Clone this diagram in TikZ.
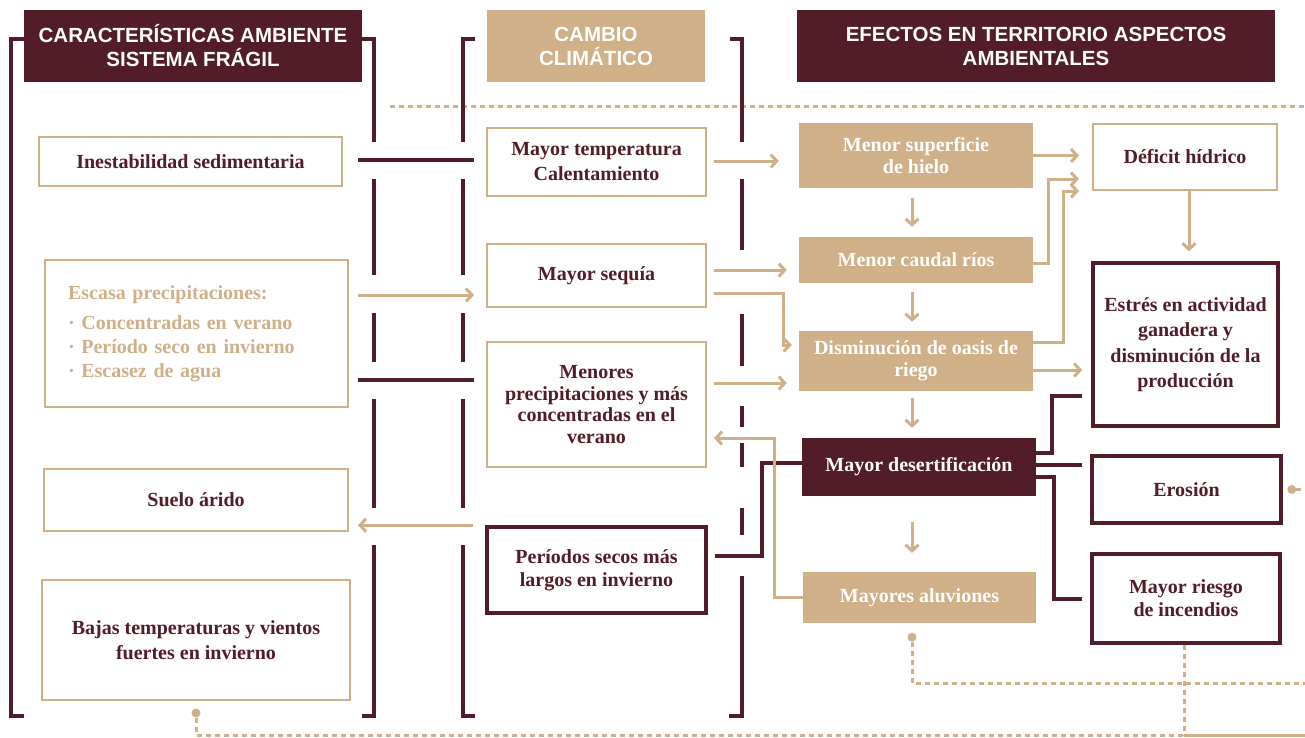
\documentclass[tikz,border=0pt]{standalone}
\usepackage{fontspec}
\setmainfont{Liberation Serif}
\newfontfamily\hdfont{Liberation Sans}
\usetikzlibrary{arrows.meta,calc}
\definecolor{maroonc}{HTML}{521C28}
\definecolor{tanc}{HTML}{D0B088}
\begin{document}
\begin{tikzpicture}[x=1pt,y=-1pt,
  txt/.style={font=\bfseries\fontsize{20}{25}\selectfont, align=center, inner sep=0pt},
  hdr/.style={font=\hdfont\bfseries\fontsize{20.5}{24}\selectfont, text=white, align=center, inner sep=0pt, minimum height=72pt},
  tbox/.style={txt, draw=tanc, line width=2pt, fill=white, text=maroonc},
  mbox/.style={txt, draw=maroonc, line width=3.5pt, fill=white, text=maroonc},
  tfill/.style={txt, fill=tanc, text=white},
  mfill/.style={txt, fill=maroonc, text=white},
  brk/.style={draw=maroonc, line width=4pt},
  mline/.style={draw=maroonc, line width=3.5pt},
  arr/.style={draw=tanc, line width=3pt, -{Straight Barb[length=6pt,width=13pt]}},
  dotline/.style={draw=tanc, line width=3pt, dash pattern=on 5pt off 4pt},
  solidline/.style={draw=tanc, line width=3pt},
  dotc/.style={circle, fill=tanc, inner sep=0pt, minimum size=9pt},
]
\useasboundingbox (0,0) rectangle (1305,737);
\fill[white] (0,0) rectangle (1305,737);

% top dotted line
\coordinate (dt1) at (390,106);
\coordinate (dt2) at (1305,106);
\draw[dotline] (dt1) -- (dt2);

% brackets
\draw[brk] (24,39) -- (11,39) -- (11,716) -- (24,716);
\foreach \x/\d in {374/-12, 463/12} {
  \draw[brk] (\x+\d,39) -- (\x,39) -- (\x,142);
  \draw[brk] (\x,179) -- (\x,275);
  \draw[brk] (\x,313) -- (\x,362);
  \draw[brk] (\x,399) -- (\x,508);
  \draw[brk] (\x,545) -- (\x,716) -- (\x+\d,716);
}
\draw[brk] (730,39) -- (742,39) -- (742,142);
\draw[brk] (742,179) -- (742,250);
\draw[brk] (742,314) -- (742,366);
\draw[brk] (742,406) -- (742,427);
\draw[brk] (742,443) -- (742,467);
\draw[brk] (742,508) -- (742,535);
\draw[brk] (742,576) -- (742,716) -- (729,716);

% headers
\node[hdr, fill=maroonc, minimum width=338pt] (h1) at (193,46) {CARACTERÍSTICAS AMBIENTE\\SISTEMA FRÁGIL};
\node[hdr, fill=tanc, minimum width=218pt] (h2) at (596,46) {CAMBIO\\CLIMÁTICO};
\node[hdr, fill=maroonc, minimum width=478pt] (h3) at (1036,46) {EFECTOS EN TERRITORIO ASPECTOS\\AMBIENTALES};

% column 1
\node[tbox, minimum width=303pt, minimum height=49pt] (ines) at (190.5,161.5) {Inestabilidad sedimentaria};
\node[tbox, minimum width=303pt, minimum height=147pt, text=tanc, align=left, text width=257pt, font=\bfseries\fontsize{20}{24}\selectfont] (escasa) at (196.5,333.5) {Escasa precipitaciones:\\[6pt]· Concentradas en verano\\· Período seco en invierno\\· Escasez de agua};
\node[tbox, minimum width=304pt, minimum height=62pt] (suelo) at (196,500) {Suelo árido};
\node[tbox, minimum width=308pt, minimum height=120pt] (bajas) at (196,640) {Bajas temperaturas y vientos\\fuertes en invierno};

% column 2
\node[tbox, minimum width=219pt, minimum height=68pt] (temp) at (596.5,162) {Mayor temperatura\\Calentamiento};
\node[tbox, minimum width=219pt, minimum height=63pt] (sequia) at (596.5,275.5) {Mayor sequía};
\node[tbox, minimum width=219pt, minimum height=125pt, font=\bfseries\fontsize{20}{21.5}\selectfont] (menores) at (596.5,404.5) {Menores\\precipitaciones y más\\concentradas en el\\verano};
\node[mbox, minimum width=219pt, minimum height=86pt, font=\bfseries\fontsize{20}{23}\selectfont] (periodos) at (596.5,570) {Períodos secos más\\largos en invierno};

% column 3
\node[tfill, minimum width=234pt, minimum height=65pt, font=\bfseries\fontsize{20}{22}\selectfont] (hielo) at (916,155.5) {Menor superficie\\de hielo};
\node[tfill, minimum width=234pt, minimum height=46pt] (caudal) at (916,260) {Menor caudal ríos};
\node[tfill, minimum width=234pt, minimum height=60pt, font=\bfseries\fontsize{20}{22}\selectfont] (oasis) at (916,361) {Disminución de oasis de\\riego};
\node[mfill, minimum width=234pt, minimum height=58pt] (desert) at (919,467) {Mayor desertificación};
\node[tfill, minimum width=233pt, minimum height=51pt] (aluv) at (919.5,597.5) {Mayores aluviones};

% column 4
\node[tbox, minimum width=184pt, minimum height=66pt] (deficit) at (1185,157) {Déficit hídrico};
\node[mbox, minimum width=185pt, minimum height=163pt, font=\bfseries\fontsize{20}{25.5}\selectfont] (estres) at (1185.5,344.5) {Estrés en actividad\\ganadera y\\disminución de la\\producción};
\node[mbox, minimum width=189pt, minimum height=67pt] (erosion) at (1186.5,489.5) {Erosión};
\node[mbox, minimum width=188pt, minimum height=89pt, font=\bfseries\fontsize{20}{23}\selectfont] (riesgo) at (1186,598.5) {Mayor riesgo\\de incendios};

% col1 - col2 connectors
\draw[mline] ($(ines.east)+(15,-1.5)$) -- ($(ines.east -| temp.west)+(-12,-1.5)$);
\draw[arr] ($(escasa.east)+(9,-38.5)$) -- ($(escasa.east -| sequia.west)+(-12,-38.5)$);
\draw[mline] ($(escasa.east)+(9,46.5)$) -- ($(escasa.east -| menores.west)+(-12,46.5)$);
\draw[arr] ($(periodos.north west)+(-12,0)$) -- ($(periodos.north west -| suelo.east)+(9,0)$);

% col2 - col3 connectors
\draw[mline] ($(desert.west)+(0,-4)$) -- ($(desert.west)+(-40,-4)$) |- ($(periodos.east)+(7,-14)$);
\draw[arr] ($(temp.east)+(7,-1)$) -- ($(temp.east -| hielo.west)+(-20,-1)$);
\draw[arr] ($(sequia.east)+(7,-5.5)$) -- ($(sequia.east -| caudal.west)+(-12,-5.5)$);
\draw[arr] ($(sequia.east)+(7,17.5)$) -| ($(oasis.west)+(-15,-16)$) -- ($(oasis.west)+(-7,-16)$);
\draw[arr] ($(menores.east)+(7,-21.5)$) -- ($(menores.east -| oasis.west)+(-12,-21.5)$);
\draw[arr] (aluv.west) -- ($(aluv.west)+(-28,0)$) |- ($(menores.east)+(7,33.5)$);

% col3 vertical arrows
\draw[arr] ($(hielo.south)+(-4,10)$) -- ($(caudal.north)+(-4,-10)$);
\draw[arr] ($(caudal.south)+(-4,9)$) -- ($(oasis.north)+(-4,-9)$);
\draw[arr] ($(oasis.south)+(-4,7)$) -- ($(desert.north)+(-7,-10)$);
\draw[arr] ($(desert.south)+(-7,26)$) -- ($(aluv.north)+(-7.5,-19)$);

% col3 - col4 connectors
\draw[arr] (hielo.east) -- ($(hielo.east -| deficit.west)+(-13,0)$);
\draw[arr] ($(caudal.east)+(0,3)$) -- ($(caudal.east)+(15,3)$) |- ($(deficit.west)+(-13,22)$);
\draw[arr] ($(oasis.east)+(0,-19)$) -- ($(oasis.east)+(30,-19)$) |- ($(deficit.south west)+(-13,0)$);
\draw[arr] ($(oasis.east)+(0,9)$) -- ($(oasis.east -| estres.west)+(-9,9)$);
\draw[arr] ($(deficit.south)+(4,0)$) -- ($(estres.north)+(3.5,-10)$);
\draw[mline] ($(desert.east)+(0,-14)$) -- ($(desert.east)+(16,-14)$) |- ($(estres.south west)+(-9,-32)$);
\draw[mline] ($(desert.east)+(0,-2)$) -- ($(desert.east -| erosion.west)+(-8,-2)$);
\draw[mline] ($(desert.east)+(0,10)$) -- ($(desert.east)+(18,10)$) |- ($(riesgo.west)+(-8,0.5)$);

% dotted links
\node[dotc] (dE) at ($(erosion.east)+(9,0)$) {};
\coordinate (eE) at (1305,489.5);
\draw[dotline] (dE) -- (eE);

\node[dotc] (dA) at ($(aluv.south)+(-7.5,14)$) {};
\coordinate (eA) at (1305,683);
\draw[dotline] (dA) |- (eA);

\node[dotc] (dB) at ($(bajas.south)+(0,12)$) {};
\coordinate (jB) at ($(riesgo.south)+(-2,0)$);
\coordinate (cB) at (1184,735);
\coordinate (eB) at (1305,735);
\draw[dotline] (dB) |- (cB);
\draw[dotline] (jB) -- (cB);
\draw[solidline] (cB) -- (eB);
\end{tikzpicture}
\end{document}
